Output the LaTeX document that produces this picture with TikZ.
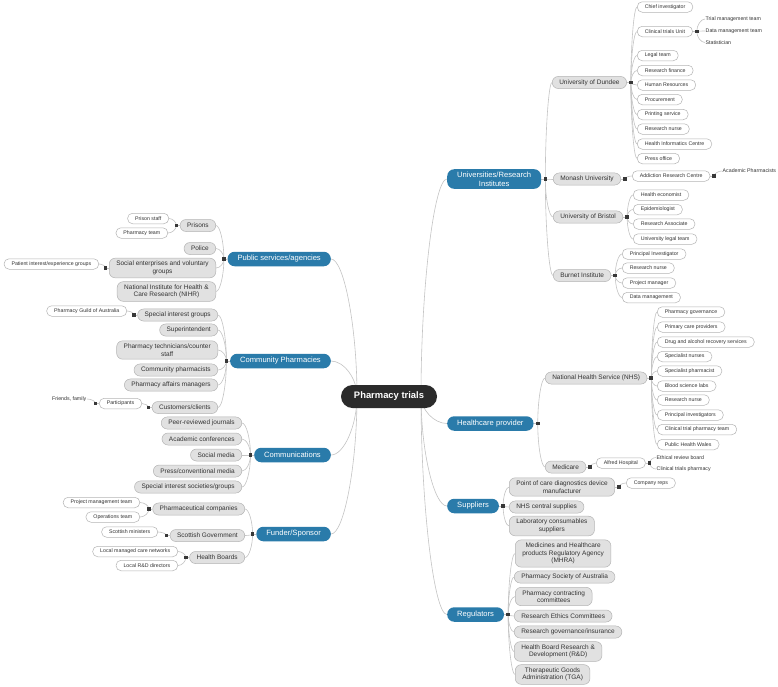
\documentclass[tikz,border=0pt]{standalone}
\usepackage{fontspec}
\setmainfont{Liberation Sans}
\usetikzlibrary{calc,backgrounds}
\definecolor{rootc}{HTML}{2B2B2B}
\definecolor{mainc}{HTML}{2A7BAA}
\definecolor{lvlc}{HTML}{E1E1E1}
\definecolor{bordc}{HTML}{B4B4B4}
\definecolor{linec}{HTML}{C4C4C4}
\definecolor{txtc}{HTML}{333333}
\newcommand\mkR[2]{\coordinate (#2) at ($(#1.east)+(4,0)$);}
\newcommand\mkL[2]{\coordinate (#2) at ($(#1.west)+(-3.5,0)$);}
\tikzset{
 rootbox/.style={fill=rootc, text=white, rounded corners=11.5pt, minimum width=96pt, minimum height=23pt, font=\fontsize{9.4}{11}\selectfont\bfseries, inner sep=0pt},
 mainbox/.style={fill=mainc, text=white, rounded corners=7pt, minimum height=14.5pt, inner xsep=10pt, inner ysep=2.5pt, align=center, font=\fontsize{7.6}{9}\selectfont},
 lvl/.style={fill=lvlc, draw=bordc, line width=0.5pt, text=txtc, rounded corners=6pt, minimum height=12pt, inner xsep=7pt, inner ysep=3pt, align=center, font=\fontsize{6.5}{7.6}\selectfont},
 leaf/.style={fill=white, draw=bordc, line width=0.5pt, text=txtc, rounded corners=5pt, minimum height=10.5pt, inner xsep=7.5pt, inner ysep=2pt, font=\fontsize{5.25}{6.2}\selectfont},
 plain/.style={text=txtc, inner sep=0.5pt, font=\fontsize{5.25}{6.2}\selectfont},
 mk/.style={fill=black!78, minimum size=3.6pt, inner sep=0pt},
 cv/.style={to path={let \p1=(\tikztostart), \p2=(\tikztotarget) in .. controls (\x1,{0.5*(\y1+\y2)}) and ({0.5*(\x1+\x2)},\y2) .. (\tikztotarget)}},
 conn/.style={draw=linec, line width=0.6pt},
}
\begin{document}
\begin{tikzpicture}[x=1pt,y=-1pt]
\useasboundingbox (0,0) rectangle (778,686);
% root
\node[rootbox] (root) at (389,396.5) {Pharmacy trials};
\coordinate (rR) at (421,396);
\coordinate (rL) at (357,396);
% main branches
\node[mainbox, anchor=west] (U) at (447,179) {Universities/Research\\Institutes};
\node[mainbox, anchor=west] (H) at (447,423.5) {Healthcare provider};
\node[mainbox, anchor=west] (S) at (447,506) {Suppliers};
\node[mainbox, anchor=west] (R) at (447,614.5) {Regulators};
\node[mainbox, anchor=east] (P) at (331,259) {Public services/agencies};
\node[mainbox, anchor=east] (C) at (331,361) {Community Pharmacies};
\node[mainbox, anchor=east] (M) at (331,455) {Communications};
\node[mainbox, anchor=east] (F) at (331,534) {Funder/Sponsor};
% level 2 right
\node[lvl, anchor=west] (dun) at (552,82.5) {University of Dundee};
\node[lvl, anchor=west] (mon) at (553,179) {Monash University};
\node[lvl, anchor=west] (bri) at (553,217) {University of Bristol};
\node[lvl, anchor=west] (bur) at (553,275.5) {Burnet Institute};
\node[lvl, anchor=west] (nhs) at (545,378) {National Health Service (NHS)};
\node[lvl, anchor=west] (med) at (545,467) {Medicare};
\node[lvl, anchor=west] (poc) at (509,487) {Point of care diagnostics device\\manufacturer};
\node[lvl, anchor=west] (ncs) at (509,507) {NHS central supplies};
\node[lvl, anchor=west] (lcs) at (509,526) {Laboratory consumables\\suppliers};
\node[lvl, anchor=west] (r1) at (515,553.5) {Medicines and Healthcare\\products Regulatory Agency\\(MHRA)};
\node[lvl, anchor=west] (r2) at (514,577) {Pharmacy Society of Australia};
\node[lvl, anchor=west] (r3) at (515,596.5) {Pharmacy contracting\\committees};
\node[lvl, anchor=west] (r4) at (514,616) {Research Ethics Committees};
\node[lvl, anchor=west] (r5) at (514,632) {Research governance/insurance};
\node[lvl, anchor=west] (r6) at (514,651.5) {Health Board Research \&\\Development (R\&D)};
\node[lvl, anchor=west] (r7) at (515,674.5) {Therapeutic Goods\\Administration (TGA)};
% level 2 left
\node[lvl, anchor=east] (pri) at (216,225.5) {Prisons};
\node[lvl, anchor=east] (pol) at (216,248.5) {Police};
\node[lvl, anchor=east] (soc) at (216,268) {Social enterprises and voluntary\\groups};
\node[lvl, anchor=east] (nih) at (216,291.5) {National Institute for Health \&\\Care Research (NIHR)};
\node[lvl, anchor=east] (sig) at (218,315) {Special interest groups};
\node[lvl, anchor=east] (sup) at (218,330) {Superintendent};
\node[lvl, anchor=east] (pht) at (218,350) {Pharmacy technicians/counter\\staff};
\node[lvl, anchor=east] (cph) at (218,370) {Community pharmacists};
\node[lvl, anchor=east] (pam) at (218,385) {Pharmacy affairs managers};
\node[lvl, anchor=east] (cus) at (218,407.5) {Customers/clients};
\node[lvl, anchor=east] (c1) at (242,423) {Peer-reviewed journals};
\node[lvl, anchor=east] (c2) at (242,439) {Academic conferences};
\node[lvl, anchor=east] (c3) at (242,455) {Social media};
\node[lvl, anchor=east] (c4) at (242,471) {Press/conventional media};
\node[lvl, anchor=east] (c5) at (242,487) {Special interest societies/groups};
\node[lvl, anchor=east] (pco) at (245,509) {Pharmaceutical companies};
\node[lvl, anchor=east] (sgo) at (245,535.5) {Scottish Government};
\node[lvl, anchor=east] (hbo) at (245,557.5) {Health Boards};
% leaves right
\node[leaf, anchor=west] (d1) at (637,7) {Chief investigator};
\node[leaf, anchor=west] (d2) at (637,31.5) {Clinical trials Unit};
\node[leaf, anchor=west] (d3) at (637,55.5) {Legal team};
\node[leaf, anchor=west] (d4) at (637,70.5) {Research finance};
\node[leaf, anchor=west] (d5) at (637,85) {Human Resources};
\node[leaf, anchor=west] (d6) at (637,99.5) {Procurement};
\node[leaf, anchor=west] (d7) at (637,114.5) {Printing service};
\node[leaf, anchor=west] (d8) at (637,129) {Research nurse};
\node[leaf, anchor=west] (d9) at (637,144) {Health Informatics Centre};
\node[leaf, anchor=west] (d10) at (637,158.5) {Press office};
\node[plain, anchor=west] (t1) at (705,19) {Trial management team};
\node[plain, anchor=west] (t2) at (705,31) {Data management team};
\node[plain, anchor=west] (t3) at (705,42.5) {Statistician};
\node[leaf, anchor=west] (arc) at (632,176) {Addiction Research Centre};
\node[plain, anchor=west] (ap) at (722,171) {Academic Pharmacists};
\node[leaf, anchor=west] (b1) at (633,195) {Health economist};
\node[leaf, anchor=west] (b2) at (633,209.5) {Epidemiologist};
\node[leaf, anchor=west] (b3) at (633,224) {Research Associate};
\node[leaf, anchor=west] (b4) at (633,239) {University legal team};
\node[leaf, anchor=west] (u1) at (622,254) {Principal Investigator};
\node[leaf, anchor=west] (u2) at (622,268) {Research nurse};
\node[leaf, anchor=west] (u3) at (622,283) {Project manager};
\node[leaf, anchor=west] (u4) at (622,297.5) {Data management};
\node[leaf, anchor=west] (n1) at (657,312) {Pharmacy governance};
\node[leaf, anchor=west] (n2) at (657,327) {Primary care providers};
\node[leaf, anchor=west] (n3) at (657,342) {Drug and alcohol recovery services};
\node[leaf, anchor=west] (n4) at (657,356.5) {Specialist nurses};
\node[leaf, anchor=west] (n5) at (657,371) {Specialist pharmacist};
\node[leaf, anchor=west] (n6) at (657,386) {Blood science labs};
\node[leaf, anchor=west] (n7) at (657,400) {Research nurse};
\node[leaf, anchor=west] (n8) at (657,415) {Principal investigators};
\node[leaf, anchor=west] (n9) at (657,429.5) {Clinical trial pharmacy team};
\node[leaf, anchor=west] (n10) at (657,444.5) {Public Health Wales};
\node[leaf, anchor=west] (alf) at (596,463) {Alfred Hospital};
\node[plain, anchor=west] (erb) at (656,457.5) {Ethical review board};
\node[plain, anchor=west] (ctp) at (656,469) {Clinical trials pharmacy};
\node[leaf, anchor=west] (crep) at (626,483) {Company reps};
% leaves left
\node[leaf, anchor=east] (ps) at (169,218.5) {Prison staff};
\node[leaf, anchor=east] (pt) at (168,233) {Pharmacy team};
\node[leaf, anchor=east] (pie) at (99,264) {Patient interest/experience groups};
\node[leaf, anchor=east] (pga) at (127,311) {Pharmacy Guild of Australia};
\node[leaf, anchor=east] (par) at (142,403.5) {Participants};
\node[plain, anchor=east] (ff) at (87,399) {Friends, family};
\node[leaf, anchor=east] (pmt) at (140,502.5) {Project management team};
\node[leaf, anchor=east] (opt) at (140,517) {Operations team};
\node[leaf, anchor=east] (smi) at (158,532) {Scottish ministers};
\node[leaf, anchor=east] (lmc) at (178,551.5) {Local managed care networks};
\node[leaf, anchor=east] (lrd) at (178,565.5) {Local R\&D directors};
% marker points
\mkR{U}{mU} \mkR{H}{mH} \mkR{S}{mS} \mkR{R}{mR}
\mkR{dun}{mdun} \mkR{d2}{md2} \mkR{mon}{mmon} \mkR{arc}{marc} \mkR{bri}{mbri} \mkR{bur}{mbur}
\mkR{nhs}{mnhs} \mkR{med}{mmed} \mkR{alf}{malf} \mkR{poc}{mpoc}
\mkL{P}{mP} \mkL{C}{mC} \mkL{M}{mM} \mkL{F}{mF}
\mkL{pri}{mpri} \mkL{soc}{msoc} \mkL{sig}{msig} \mkL{cus}{mcus} \mkL{par}{mpar}
\mkL{pco}{mpco} \mkL{sgo}{msgo} \mkL{hbo}{mhbo}
\begin{scope}[on background layer]
\fill[white] (0,0) rectangle (778,686);
\foreach \c in {U,H,S,R} \draw[conn] (rR) to[cv] (\c.west);
\foreach \c in {P,C,M,F} \draw[conn] (rL) to[cv] (\c.east);
% right side
\foreach \p/\m in {U/mU,H/mH,S/mS,R/mR,dun/mdun,d2/md2,mon/mmon,arc/marc,bri/mbri,bur/mbur,nhs/mnhs,med/mmed,alf/malf,poc/mpoc}
  \draw[conn] (\p.east) -- (\m);
\foreach \c in {dun,mon,bri,bur} \draw[conn] (mU) to[cv] (\c.west);
\foreach \c in {d1,d2,d3,d4,d5,d6,d7,d8,d9,d10} \draw[conn] (mdun) to[cv] (\c.west);
\foreach \c in {t1,t2,t3} \draw[conn] (md2) to[cv] (\c.west);
\draw[conn] (mmon) to[cv] (arc.west);
\draw[conn] (marc) to[cv] (ap.west);
\foreach \c in {b1,b2,b3,b4} \draw[conn] (mbri) to[cv] (\c.west);
\foreach \c in {u1,u2,u3,u4} \draw[conn] (mbur) to[cv] (\c.west);
\foreach \c in {nhs,med} \draw[conn] (mH) to[cv] (\c.west);
\foreach \c in {n1,n2,n3,n4,n5,n6,n7,n8,n9,n10} \draw[conn] (mnhs) to[cv] (\c.west);
\draw[conn] (mmed) to[cv] (alf.west);
\foreach \c in {erb,ctp} \draw[conn] (malf) to[cv] (\c.west);
\foreach \c in {poc,ncs,lcs} \draw[conn] (mS) to[cv] (\c.west);
\draw[conn] (mpoc) to[cv] (crep.west);
\foreach \c in {r1,r2,r3,r4,r5,r6,r7} \draw[conn] (mR) to[cv] (\c.west);
% left side
\foreach \p/\m in {P/mP,C/mC,M/mM,F/mF,pri/mpri,soc/msoc,sig/msig,cus/mcus,par/mpar,pco/mpco,sgo/msgo,hbo/mhbo}
  \draw[conn] (\p.west) -- (\m);
\foreach \c in {pri,pol,soc,nih} \draw[conn] (mP) to[cv] (\c.east);
\foreach \c in {ps,pt} \draw[conn] (mpri) to[cv] (\c.east);
\draw[conn] (msoc) to[cv] (pie.east);
\foreach \c in {sig,sup,pht,cph,pam,cus} \draw[conn] (mC) to[cv] (\c.east);
\draw[conn] (msig) to[cv] (pga.east);
\draw[conn] (mcus) to[cv] (par.east);
\draw[conn] (mpar) to[cv] (ff.east);
\foreach \c in {c1,c2,c3,c4,c5} \draw[conn] (mM) to[cv] (\c.east);
\foreach \c in {pco,sgo,hbo} \draw[conn] (mF) to[cv] (\c.east);
\foreach \c in {pmt,opt} \draw[conn] (mpco) to[cv] (\c.east);
\draw[conn] (msgo) to[cv] (smi.east);
\foreach \c in {lmc,lrd} \draw[conn] (mhbo) to[cv] (\c.east);
\end{scope}
% markers
\foreach \m in {mU,mH,mS,mR,mdun,md2,mmon,marc,mbri,mbur,mnhs,mmed,malf,mpoc,mP,mC,mM,mF,mpri,msoc,msig,mcus,mpar,mpco,msgo,mhbo}
  \node[mk] (k\m) at (\m) {};
\end{tikzpicture}
\end{document}
